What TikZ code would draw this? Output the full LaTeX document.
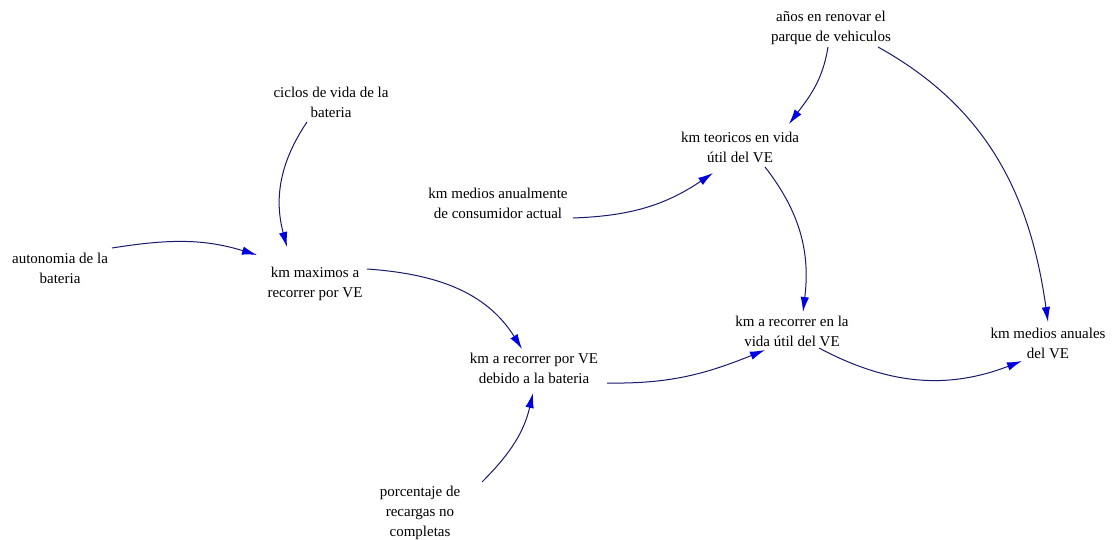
\documentclass[tikz,border=0pt]{standalone}
\usepackage{fontspec}
\setmainfont{Liberation Serif}
\usetikzlibrary{arrows.meta}
\definecolor{linecol}{RGB}{25,25,110}
\definecolor{headcol}{RGB}{0,0,225}
\begin{document}
\begin{tikzpicture}[x=1pt,y=1pt,
  lbl/.style={align=center, inner sep=0pt, font=\rmfamily\fontsize{15}{20}\selectfont},
  link/.style={draw=linecol, line width=1pt, -{Latex[length=15pt,width=8.5pt,color=headcol]}}]
\useasboundingbox[fill=white] (0,0) rectangle (1112,-540);
% nodes
\node[lbl] (anos) at (831,-28) {años en renovar el\\parque de vehiculos};
\node[lbl] (ciclos) at (331,-102) {ciclos de vida de la\\bateria};
\node[lbl] (teoricos) at (740,-147) {km teoricos en vida\\útil del VE};
\node[lbl] (medanual) at (498,-203) {km medios anualmente\\de consumidor actual};
\node[lbl] (autonomia) at (60,-268) {autonomia de la\\bateria};
\node[lbl] (maximos) at (315,-284) {km maximos a\\recorrer por VE};
\node[lbl] (vidautil) at (792,-331) {km a recorrer en la\\vida útil del VE};
\node[lbl] (medios) at (1048,-343) {km medios anuales\\del VE};
\node[lbl] (debido) at (534,-368) {km a recorrer por VE\\debido a la bateria};
\node[lbl] (porcentaje) at (420,-513) {porcentaje de\\recargas no\\completas};
% connectors
\draw[link] ([shift={(-24,-20)}]ciclos.center) to[out=-124,in=105] ([shift={(-28,37)}]maximos.center);
\draw[link] ([shift={(52,20)}]autonomia.center) to[out=9,in=163] ([shift={(-58,29)}]maximos.center);
\draw[link] ([shift={(52,15)}]maximos.center) to[out=-4,in=122] ([shift={(-12,19)}]debido.center);
\draw[link] ([shift={(62,31)}]porcentaje.center) to[out=45,in=-103] ([shift={(-1,-25)}]debido.center);
\draw[link] ([shift={(73,-15)}]debido.center) to[out=-1,in=-158] ([shift={(-27,-19)}]vidautil.center);
\draw[link] ([shift={(75,-15)}]medanual.center) to[out=2,in=-146] ([shift={(-27,-26)}]teoricos.center);
\draw[link] ([shift={(-3,-19)}]anos.center) to[out=-99,in=53] ([shift={(49,23)}]teoricos.center);
\draw[link] ([shift={(25,-20)}]teoricos.center) to[out=-52,in=83] ([shift={(11,19)}]vidautil.center);
\draw[link] ([shift={(47,-19)}]anos.center) to[out=-29,in=98] ([shift={(0,21)}]medios.center);
\draw[link] ([shift={(27,-17)}]vidautil.center) to[out=-28,in=-159] ([shift={(-26,-18)}]medios.center);
\end{tikzpicture}
\end{document}
